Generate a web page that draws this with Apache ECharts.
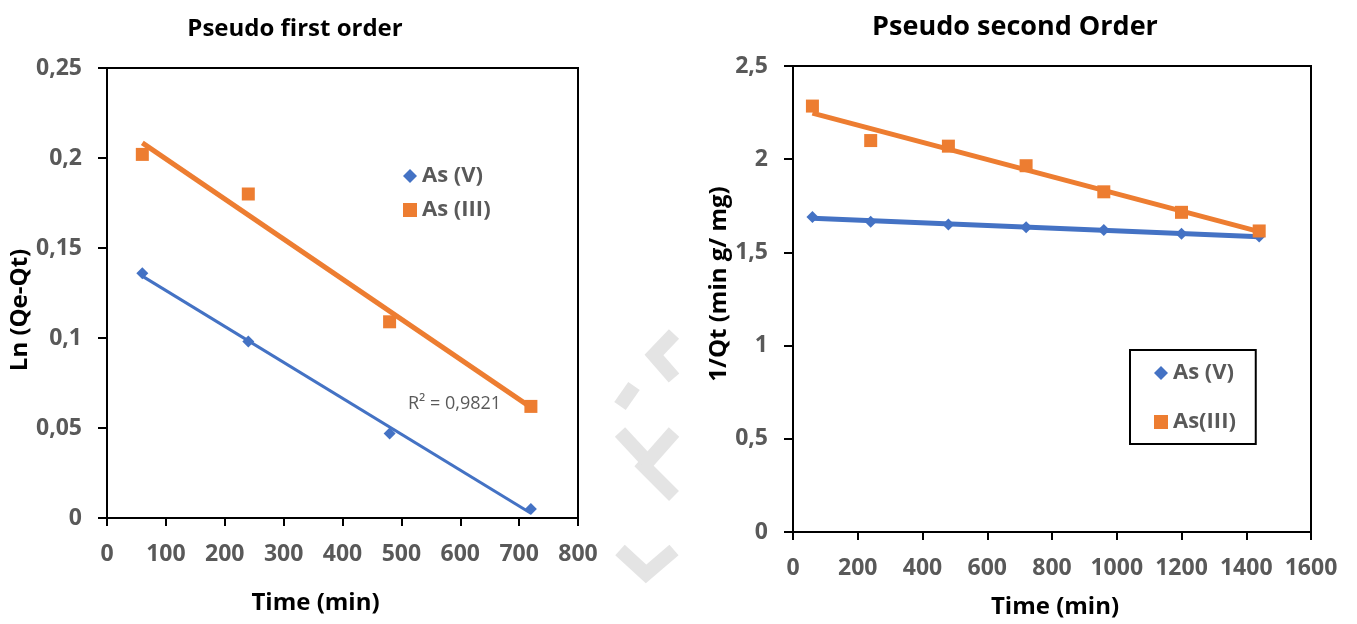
<!DOCTYPE html>
<html>
<head>
<meta charset="utf-8">
<script src="https://cdn.jsdelivr.net/npm/echarts@6/dist/echarts.min.js"></script>
<style>
  html, body { margin: 0; padding: 0; background: #fff; }
  #chart { width: 1357px; height: 624px; }
</style>
</head>
<body>
<div id="chart"></div>
<script>
// pseudo first order (left)
const timeFirst = [60, 240, 480, 720]
const lnV = [0.136, 0.098, 0.047, 0.005]
const lnIII = [0.202, 0.180, 0.109, 0.062]

// pseudo second order (right)
const timeSecond = [60, 240, 480, 720, 960, 1200, 1440]
const invV = [1.69, 1.665, 1.65, 1.635, 1.62, 1.60, 1.585]
const invIII = [2.285, 2.10, 2.07, 1.965, 1.825, 1.715, 1.615]

const BLUE = '#4472C4'
const ORANGE = '#ED7D31'
const FONT = '"Open Sans", sans-serif'
const MARK = '#e4e4e4'

// least squares fit, drawn between first and last x
function trend(xs, ys) {
  const n = xs.length
  const mx = xs.reduce((a, b) => a + b, 0) / n
  const my = ys.reduce((a, b) => a + b, 0) / n
  let sxy = 0, sxx = 0
  for (let i = 0; i < n; i++) {
    sxy += (xs[i] - mx) * (ys[i] - my)
    sxx += (xs[i] - mx) * (xs[i] - mx)
  }
  const k = sxy / sxx
  const b = my - k * mx
  return [[xs[0], k * xs[0] + b], [xs[n - 1], k * xs[n - 1] + b]]
}

function pairs(xs, ys) {
  return xs.map((x, i) => [x, ys[i]])
}

const comma = v => String(v).replace('.', ',')

function xAxisCfg(gridIndex, max, interval, nameGap, namePad) {
  return {
    type: 'value', gridIndex, min: 0, max, interval,
    name: 'Time (min)', nameLocation: 'middle', nameGap,
    nameTextStyle: { fontFamily: FONT, fontWeight: 'bold', fontSize: 24, color: '#000', padding: namePad },
    axisLine: { show: true, onZero: false, lineStyle: { color: '#000', width: 2 } },
    axisTick: { show: true, length: 8, lineStyle: { color: '#000', width: 2 } },
    axisLabel: { fontFamily: FONT, fontWeight: 'bold', fontSize: 23, color: '#595959', margin: 25,
      formatter: v => String(v) },
    splitLine: { show: false }
  }
}

function yAxisCfg(gridIndex, max, interval, name, nameGap, namePad) {
  return {
    type: 'value', gridIndex, min: 0, max, interval,
    name, nameLocation: 'middle', nameGap, nameRotate: 90,
    nameTextStyle: { fontFamily: FONT, fontWeight: 'bold', fontSize: 24, color: '#000', padding: namePad },
    axisLine: { show: true, lineStyle: { color: '#000', width: 2 } },
    axisTick: { show: true, length: 9, lineStyle: { color: '#000', width: 2 } },
    axisLabel: { fontFamily: FONT, fontWeight: 'bold', fontSize: 23, color: '#595959', margin: 25, formatter: comma },
    splitLine: { show: false }
  }
}

const legendText = { fontFamily: FONT, fontWeight: 'bold', fontSize: 22, color: '#595959' }
const wm = points => ({
  type: 'polyline', silent: true, z: -1,
  shape: { points },
  style: { stroke: MARK, lineWidth: 14, fill: null }
})

const chart = echarts.init(document.getElementById('chart'))

const option = {
  backgroundColor: '#fff',
  animation: false,
  title: [
    { text: 'Pseudo first order', left: 290, top: 12, textAlign: 'center',
      textStyle: { fontFamily: FONT, fontWeight: 'bold', fontSize: 24, color: '#000' } },
    { text: 'Pseudo second Order', left: 1010, top: 9, textAlign: 'center',
      textStyle: { fontFamily: FONT, fontWeight: 'bold', fontSize: 27, color: '#000' } }
  ],
  grid: [
    { left: 107, top: 68, width: 471, height: 450, show: true, borderColor: '#000', borderWidth: 2 },
    { left: 793, top: 66, width: 518, height: 466, show: true, borderColor: '#000', borderWidth: 2 }
  ],
  xAxis: [xAxisCfg(0, 800, 100, 73, [0, 54, 0, 0]), xAxisCfg(1, 1600, 200, 63, [0, 0, 0, 6])],
  yAxis: [
    yAxisCfg(0, 0.25, 0.05, 'Ln (Qe-Qt)', 70, [0, 34, 0, 0]),
    yAxisCfg(1, 2.5, 0.5, '1/Qt (min g/ mg)', 51, [0, 0, 0, 30])
  ],
  legend: [
    {
      data: [{ name: 'As (V)', icon: 'diamond' }, { name: 'As (III)', icon: 'rect' }],
      orient: 'vertical', left: 398, top: 160, itemGap: 12, padding: 5,
      itemWidth: 14, itemHeight: 14,
      textStyle: legendText
    },
    {
      data: [{ name: 'As (V) ', icon: 'diamond' }, { name: 'As(III)', icon: 'rect' }],
      orient: 'vertical', left: 1130, top: 350, itemGap: 27,
      padding: [12, 16, 11, 24],
      itemWidth: 14, itemHeight: 14,
      borderColor: '#000', borderWidth: 2,
      textStyle: legendText
    }
  ],
  graphic: [
    { type: 'text', left: 408, top: 395, z: 10,
      style: { text: 'R² = 0,9821', fontFamily: FONT, fontSize: 18, fill: '#595959' } },
    // faint watermark fragments between the two charts
    wm([[674, 334], [654, 355], [674, 378]]),
    wm([[620, 406], [634, 386]]),
    wm([[674, 432], [644, 466], [674, 496]]),
    wm([[620, 432], [646, 460]]),
    wm([[620, 550], [646, 574], [674, 550]])
  ],
  series: [
    // left: trendlines
    { name: 'fitV1', type: 'line', xAxisIndex: 0, yAxisIndex: 0, data: trend(timeFirst, lnV),
      showSymbol: false, lineStyle: { color: BLUE, width: 3 }, silent: true, z: 2 },
    { name: 'fitIII1', type: 'line', xAxisIndex: 0, yAxisIndex: 0, data: trend(timeFirst, lnIII),
      showSymbol: false, lineStyle: { color: ORANGE, width: 5 }, silent: true, z: 2 },
    // left: points
    { name: 'As (V)', type: 'scatter', xAxisIndex: 0, yAxisIndex: 0, data: pairs(timeFirst, lnV),
      symbol: 'diamond', symbolSize: 12, itemStyle: { color: BLUE, opacity: 1 }, z: 3 },
    { name: 'As (III)', type: 'scatter', xAxisIndex: 0, yAxisIndex: 0, data: pairs(timeFirst, lnIII),
      symbol: 'rect', symbolSize: 13, itemStyle: { color: ORANGE, opacity: 1 }, z: 3 },
    // right: trendlines
    { name: 'fitV2', type: 'line', xAxisIndex: 1, yAxisIndex: 1, data: trend(timeSecond, invV),
      showSymbol: false, lineStyle: { color: BLUE, width: 5 }, silent: true, z: 2 },
    { name: 'fitIII2', type: 'line', xAxisIndex: 1, yAxisIndex: 1, data: trend(timeSecond, invIII),
      showSymbol: false, lineStyle: { color: ORANGE, width: 5 }, silent: true, z: 2 },
    // right: points
    { name: 'As (V) ', type: 'scatter', xAxisIndex: 1, yAxisIndex: 1, data: pairs(timeSecond, invV),
      symbol: 'diamond', symbolSize: 12, itemStyle: { color: BLUE, opacity: 1 }, z: 3 },
    { name: 'As(III)', type: 'scatter', xAxisIndex: 1, yAxisIndex: 1, data: pairs(timeSecond, invIII),
      symbol: 'rect', symbolSize: 13, itemStyle: { color: ORANGE, opacity: 1 }, z: 3 }
  ]
}

chart.setOption(option)
</script>
</body>
</html>
